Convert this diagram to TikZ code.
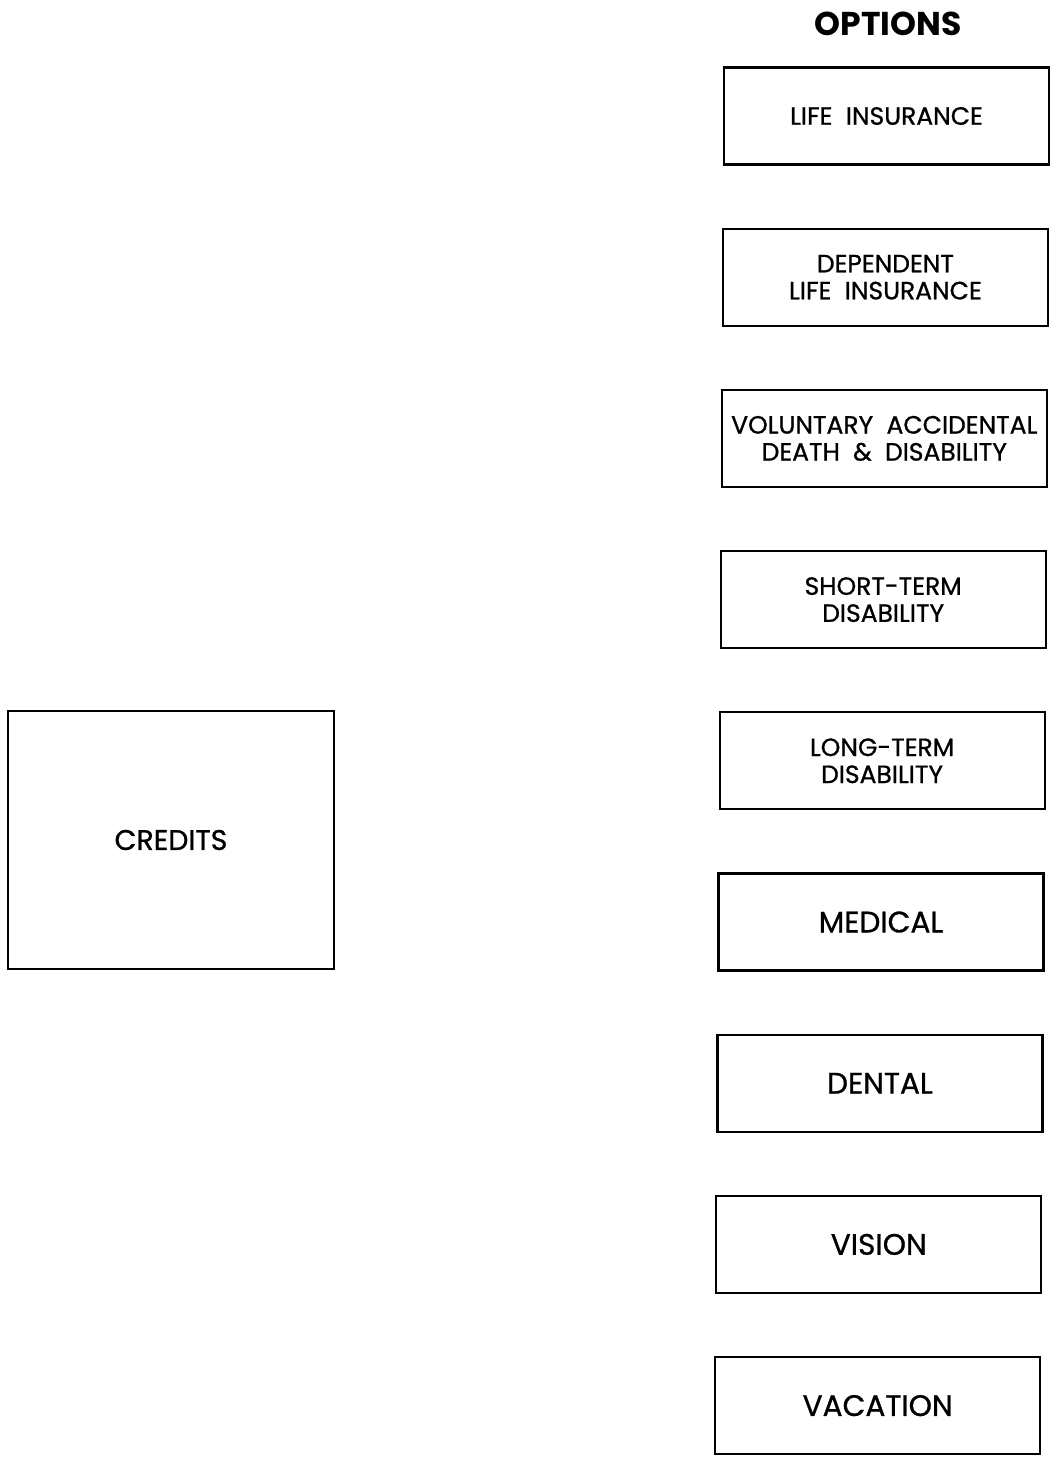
\documentclass[tikz,border=0pt]{standalone}
\usepackage{fontspec}
\setmainfont{Poppins}
\newfontfamily\boxfont{Poppins}[FakeBold=0.9]
\usetikzlibrary{positioning}
\tikzset{
  optbox/.style={draw, line width=1.1pt, minimum width=162.5pt, minimum height=48.5pt,
    inner sep=0pt, align=center, font=\boxfont\fontsize{12.5}{13.5}\selectfont},
  optbig/.style={optbox, font=\boxfont\fontsize{14.8}{16}\selectfont},
  credbox/.style={draw, line width=1.1pt, minimum width=163pt, minimum height=129pt,
    inner sep=0pt, font=\boxfont\fontsize{14.2}{16}\selectfont},
  ttl/.style={font=\fontsize{16.5}{20}\selectfont\bfseries},
}
\begin{document}
\begin{tikzpicture}[x=0.5pt,y=-0.5pt]
\useasboundingbox (0,0) rectangle (1050,1458);
\node[ttl] (title) at (888,24) {OPTIONS};
\foreach \n/\txt/\sty in {1/LIFE~~INSURANCE/optbox,
    2/DEPENDENT\\LIFE~~INSURANCE/optbox,
    3/VOLUNTARY~~ACCIDENTAL\\DEATH~~\&~~DISABILITY/optbox,
    4/SHORT-TERM\\DISABILITY/optbox,
    5/LONG-TERM\\DISABILITY/optbox,
    6/MEDICAL/optbig, 7/DENTAL/optbig, 8/VISION/optbig, 9/VACATION/optbig}
  \node[\sty] (opt\n) at ({886.5-1.1*(\n-1)},{116+161.2*(\n-1)}) {\txt};
\node[credbox] (credits) at (171,840) {CREDITS};
\end{tikzpicture}
\end{document}
